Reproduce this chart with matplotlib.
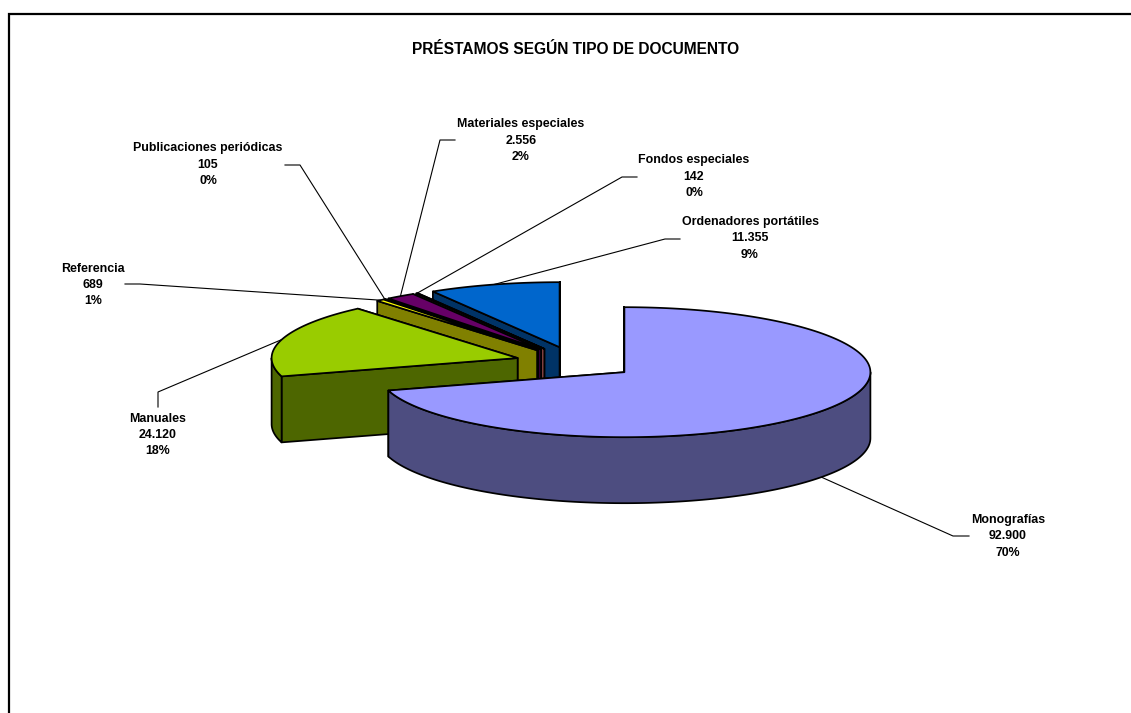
import numpy as np
import matplotlib
matplotlib.use("Agg")
import matplotlib.pyplot as plt
from matplotlib.patches import Polygon

plt.rcParams['font.family'] = ['Liberation Sans', 'DejaVu Sans']

# Datos del gráfico
tipos = ['Monografías', 'Manuales', 'Referencia', 'Publicaciones periódicas',
         'Materiales especiales', 'Fondos especiales', 'Ordenadores portátiles']
prestamos = [92900, 24120, 689, 105, 2556, 142, 11355]
color_top = ['#9999FF', '#99CC00', '#FFFF00', '#FFFFCC', '#660066', '#FF8080', '#0066CC']
color_side = ['#4D4D80', '#4D6600', '#808000', '#808066', '#330033', '#804040', '#003366']

# posición de etiquetas y codo de la línea guía (en píxeles)
label_xy = [(1008, 536), (158, 435), (93, 285), (208, 165), (521, 141), (694, 177), (750, 238)]
codo_xy = [(953, 536), (158, 392), (140, 284), (300, 165), (440, 140), (622, 177), (665, 239)]
fin_xy = [(969, 536), (158, 407), (125, 284), (285, 165), (455, 140), (637, 177), (680, 239)]

# geometría de la tarta en perspectiva
cx, cy = 575.8, 362.6
rx, ry = 246, 65
prof = 66
exp_x, exp_y = 60.7, 16


def punto(ox, oy, ang, dz=0):
    a = np.radians(ang)
    return ox + rx * np.sin(a), oy - ry * np.cos(a) + dz


fig = plt.figure(figsize=(11.31, 7.13), dpi=100)
ax = fig.add_axes([0, 0, 1, 1])
ax.set_xlim(0, 1131)
ax.set_ylim(713, 0)
ax.axis('off')

# marco (sólo arriba e izquierda, el resto queda cortado)
ax.plot([9, 9, 1131], [713, 14, 14], color='black', lw=1.6, solid_joinstyle='miter')

total = sum(prestamos)
ini = np.cumsum([0] + prestamos[:-1]) / total * 360
fin = np.cumsum(prestamos) / total * 360
medio = (ini + fin) / 2

# de atrás hacia delante
for i in [6, 5, 4, 3, 2, 1, 0]:
    ox = cx + exp_x * np.sin(np.radians(medio[i]))
    oy = cy - exp_y * np.cos(np.radians(medio[i]))
    estilo = dict(ec='black', lw=1.25, joinstyle='round')

    # caras de corte
    for ang in [fin[i], ini[i]]:
        p = punto(ox, oy, ang)
        q = punto(ox, oy, ang, prof)
        ax.add_patch(Polygon([(ox, oy), p, q, (ox, oy + prof)], fc=color_side[i], **estilo))

    # pared exterior, sólo la mitad delantera
    a0 = max(ini[i], 90)
    a1 = min(fin[i], 270)
    if a1 > a0:
        angs = np.linspace(a0, a1, 120)
        arriba = [punto(ox, oy, a) for a in angs]
        abajo = [punto(ox, oy, a, prof) for a in angs[::-1]]
        ax.add_patch(Polygon(arriba + abajo, fc=color_side[i], **estilo))

    # tapa
    angs = np.linspace(ini[i], fin[i], 200)
    ax.add_patch(Polygon([(ox, oy)] + [punto(ox, oy, a) for a in angs], fc=color_top[i], **estilo))

    # línea guía: en la mitad delantera sale del borde inferior de la pared
    dz = prof if 90 < medio[i] < 270 else 0
    borde = punto(ox, oy, medio[i], dz)
    ax.plot([borde[0], codo_xy[i][0], fin_xy[i][0]], [borde[1], codo_xy[i][1], fin_xy[i][1]],
            color='black', lw=0.8, zorder=0.5)

    pct = round(prestamos[i] / total * 100)
    valor = f'{prestamos[i]:,}'.replace(',', '.')
    ax.text(label_xy[i][0], label_xy[i][1], f'{tipos[i]}\n{valor}\n{pct}%', ha='center', va='center',
            fontsize=8.9, fontweight='bold', linespacing=1.5)

ax.text(576, 49, 'PRÉSTAMOS SEGÚN TIPO DE DOCUMENTO', ha='center', va='center',
        fontsize=11.2, fontweight='bold')

fig.savefig('out.png', dpi=100)
